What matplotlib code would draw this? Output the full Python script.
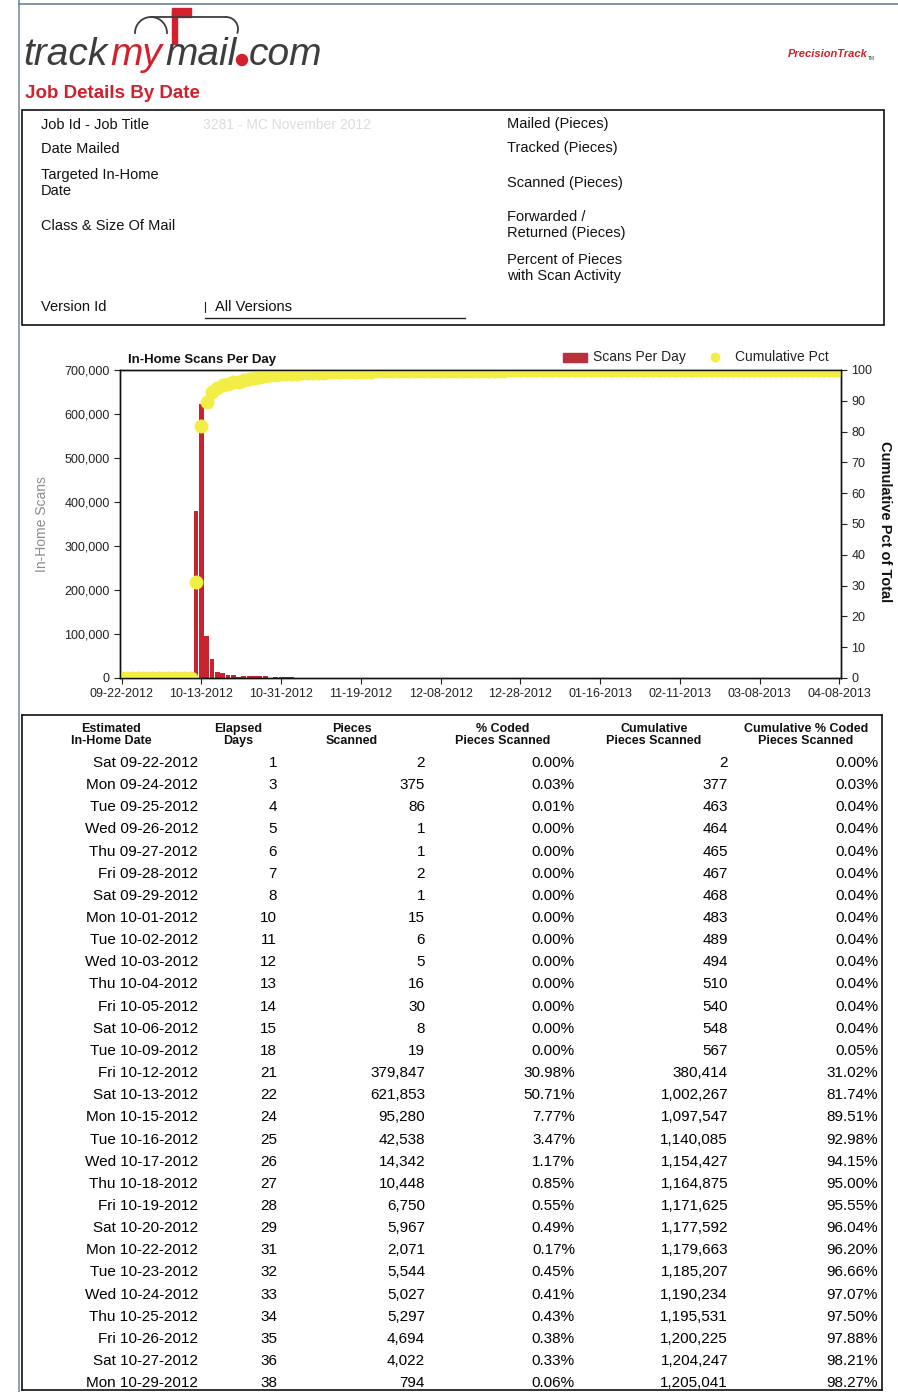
import numpy as np
import matplotlib
matplotlib.use("Agg")
import matplotlib.pyplot as plt
from matplotlib.patches import Rectangle, Circle
from matplotlib.ticker import FuncFormatter

plt.rcParams['font.family'] = ['Liberation Sans', 'DejaVu Sans']

# rows of the table
dates = ["Sat 09-22-2012", "Mon 09-24-2012", "Tue 09-25-2012", "Wed 09-26-2012",
         "Thu 09-27-2012", "Fri 09-28-2012", "Sat 09-29-2012", "Mon 10-01-2012",
         "Tue 10-02-2012", "Wed 10-03-2012", "Thu 10-04-2012", "Fri 10-05-2012",
         "Sat 10-06-2012", "Tue 10-09-2012", "Fri 10-12-2012", "Sat 10-13-2012",
         "Mon 10-15-2012", "Tue 10-16-2012", "Wed 10-17-2012", "Thu 10-18-2012",
         "Fri 10-19-2012", "Sat 10-20-2012", "Mon 10-22-2012", "Tue 10-23-2012",
         "Wed 10-24-2012", "Thu 10-25-2012", "Fri 10-26-2012", "Sat 10-27-2012",
         "Mon 10-29-2012"]
elapsed = [1, 3, 4, 5, 6, 7, 8, 10, 11, 12, 13, 14, 15, 18, 21, 22, 24, 25, 26,
           27, 28, 29, 31, 32, 33, 34, 35, 36, 38]
pieces = [2, 375, 86, 1, 1, 2, 1, 15, 6, 5, 16, 30, 8, 19, 379847, 621853,
          95280, 42538, 14342, 10448, 6750, 5967, 2071, 5544, 5027, 5297, 4694,
          4022, 794]
pct_coded = [0.00, 0.03, 0.01, 0.00, 0.00, 0.00, 0.00, 0.00, 0.00, 0.00, 0.00,
             0.00, 0.00, 0.00, 30.98, 50.71, 7.77, 3.47, 1.17, 0.85, 0.55, 0.49,
             0.17, 0.45, 0.41, 0.43, 0.38, 0.33, 0.06]
cum_pct = [0.00, 0.03, 0.04, 0.04, 0.04, 0.04, 0.04, 0.04, 0.04, 0.04, 0.04,
           0.04, 0.04, 0.05, 31.02, 81.74, 89.51, 92.98, 94.15, 95.00, 95.55,
           96.04, 96.20, 96.66, 97.07, 97.50, 97.88, 98.21, 98.27]

# scans per day after 10-29-2012 (only in the chart, rough estimates)
tail_pieces = [1800, 1500, 1400, 1200, 900, 1100, 950, 800, 700, 650,
               600, 550, 500, 480, 420, 400, 380, 350, 330, 300,
               280, 260, 250, 240, 230, 210, 200, 190, 180, 170,
               160, 150, 150, 140, 130, 120, 120, 110, 100, 100,
               95, 90, 85, 80, 80, 75, 70, 70, 65, 60,
               60, 55, 55, 50, 50, 45, 45, 40, 40, 40,
               35, 35, 35, 30, 30, 30, 28, 26, 25, 24,
               22, 22, 20, 20, 18, 18, 17, 16, 15, 15,
               14, 14, 13, 12, 12, 11, 11, 10, 10, 10,
               9, 9, 8, 8, 8, 7, 7, 6, 6, 6,
               5, 5, 5, 4, 4, 3, 3]
total_pieces = 1226200

tick_labels = ["09-22-2012", "10-13-2012", "10-31-2012", "11-19-2012",
               "12-08-2012", "12-28-2012", "01-16-2013", "02-11-2013",
               "03-08-2013", "04-08-2013"]
tick_step = 15

col_heads = ["Estimated\nIn-Home Date", "Elapsed\nDays", "Pieces\nScanned",
             "% Coded\nPieces Scanned", "Cumulative\nPieces Scanned",
             "Cumulative % Coded\nPieces Scanned"]

RED = "#d2202c"
BAR = "#c8242f"
YELLOW = "#f3ee45"
GREY = "#3d3d3d"
INK = "#111111"

all_pieces = np.array(pieces + tail_pieces)
cum_all = np.cumsum(all_pieces)
tail_pct = cum_all[len(pieces):] / total_pieces * 100
line_pct = np.concatenate([cum_pct, tail_pct])
x = np.arange(len(all_pieces))

W, H = 898, 1392
fig = plt.figure(figsize=(W / 100, H / 100), dpi=100)


def box(l, t, r, b):
    return [l / W, 1 - b / H, (r - l) / W, (b - t) / H]


# overlay in pixel coords for the report furniture
ov = fig.add_axes([0, 0, 1, 1])
ov.set_xlim(0, W)
ov.set_ylim(H, 0)
ov.axis('off')

# page edges
ov.plot([19, 19], [0, H], color="#7f8fa3", lw=1.2)
ov.plot([19, W], [4, 4], color="#6d7f99", lw=1.2)

# logo
ov.text(23, 65, "track", fontsize=28, style='italic', color=GREY, va='baseline')
ov.text(110, 65, "my", fontsize=28, style='italic', color=RED, va='baseline')
ov.text(165, 65, "mail", fontsize=28, style='italic', color=GREY, va='baseline')
ov.add_patch(Circle((242, 60), 5.5, color=RED))
ov.text(249, 65, "com", fontsize=28, style='italic', color=GREY, va='baseline')
a = np.linspace(np.pi, 2 * np.pi, 30)
ov.plot(151 + 16 * np.cos(a), 33 + 16 * np.sin(a), color=GREY, lw=1.3)
ov.plot([151, 226], [17, 17], color=GREY, lw=1.3)
a = np.linspace(1.5 * np.pi, 2.1 * np.pi, 20)
ov.plot(226 + 12 * np.cos(a), 29 + 12 * np.sin(a), color=GREY, lw=1.3)
ov.fill([172, 177, 177, 172], [10, 10, 44, 44], color=RED)
ov.fill([172, 191, 191, 172], [8, 8, 17, 17], color=RED)

ov.text(788, 57, "PrecisionTrack", fontsize=8, weight='bold', style='italic',
        color=RED, va='baseline')
ov.text(868, 60, "TM", fontsize=3.5, color=GREY, va='baseline')

ov.text(25, 94, "Job Details By Date", fontsize=13.5, weight='bold', color=RED,
        va='center')

# header box
ov.add_patch(Rectangle((22, 110), 862, 215, fill=False, ec=INK, lw=1.2))
lab = dict(fontsize=10.5, color=INK, va='center', linespacing=1.15)
ov.text(41, 125, "Job Id - Job Title", **lab)
ov.text(41, 149, "Date Mailed", **lab)
ov.text(41, 183, "Targeted In-Home\nDate", **lab)
ov.text(41, 226, "Class & Size Of Mail", **lab)
ov.text(41, 307, "Version Id", **lab)
ov.text(507, 124, "Mailed (Pieces)", **lab)
ov.text(507, 148, "Tracked (Pieces)", **lab)
ov.text(507, 183, "Scanned (Pieces)", **lab)
ov.text(507, 225, "Forwarded /\nReturned (Pieces)", **lab)
ov.text(507, 268, "Percent of Pieces\nwith Scan Activity", **lab)
ov.text(203, 125, "3281 - MC November 2012", fontsize=10, color="#dcdcdc", va='center')
ov.text(215, 307, "All Versions", fontsize=10.5, color=INK, va='center')
ov.plot([205, 465], [318, 318], color="#222222", lw=1)
ov.plot([205, 205], [302, 312], color="#222222", lw=0.8)

# chart
ax = fig.add_axes(box(120, 370, 841, 678))
ax.bar(x, all_pieces, width=0.9, color=BAR, linewidth=0)
ax.set_xlim(-0.3, len(x) - 0.7)
ax.set_ylim(0, 700000)
ax.set_yticks(np.arange(0, 700001, 100000))
ax.yaxis.set_major_formatter(FuncFormatter(lambda v, p: f"{int(v):,}"))
ax.set_xticks(x[::tick_step])
ax.set_xticklabels(tick_labels)
ax.tick_params(direction='out', length=4, labelsize=9, colors="#222222")

ax2 = ax.twinx()
ax2.plot(x, line_pct, 'o', color=YELLOW, ms=10, mec='none')
ax2.set_ylim(0, 100)
ax2.set_yticks(range(0, 101, 10))
ax2.tick_params(direction='out', length=4, labelsize=9, colors="#222222")
for a_ in (ax, ax2):
    for s in a_.spines.values():
        s.set_color(INK)
        s.set_linewidth(1)

ov.text(128, 360, "In-Home Scans Per Day", fontsize=9.5, weight='bold',
        color=INK, va='center')
ov.add_patch(Rectangle((563, 353), 24, 9, color="#b8313c"))
ov.text(593, 357, "Scans Per Day", fontsize=10, color="#222222", va='center')
ov.plot([715], [357], marker='o', ms=6, color=YELLOW)
ov.text(735, 357, "Cumulative Pct", fontsize=10, color="#222222", va='center')
ov.text(42, 524, "In-Home Scans", fontsize=10, color="#8c8c8c", rotation=90,
        ha='center', va='center')
ov.text(885, 522, "Cumulative Pct of Total", fontsize=10.5, weight='bold',
        color=INK, rotation=-90, ha='center', va='center')

# table
ov.plot([22, 882], [715, 715], color=INK, lw=1.2)
ov.plot([22, 22], [715, 1390], color=INK, lw=1.2)
ov.plot([882, 882], [715, 1390], color=INK, lw=1.2)
ov.plot([22, 882], [1390, 1390], color=INK, lw=1.2)

head_x = [111, 238, 352, 503, 654, 806]
for hx, h in zip(head_x, col_heads):
    ov.text(hx, 735, h, fontsize=9, weight='bold', color=INK,
            ha='center', va='center', linespacing=1.0)

col_right = [198, 277, 425, 575, 728, 878]
row_y0, row_dy = 763, 22.15
for i in range(len(dates)):
    y = row_y0 + i * row_dy
    cells = [dates[i], str(elapsed[i]), f"{pieces[i]:,}", f"{pct_coded[i]:.2f}%",
             f"{cum_all[i]:,}", f"{cum_pct[i]:.2f}%"]
    for cx, c in zip(col_right, cells):
        ov.text(cx, y, c, fontsize=11, color="#000000", ha='right', va='center')

fig.savefig("out.png", dpi=100)
